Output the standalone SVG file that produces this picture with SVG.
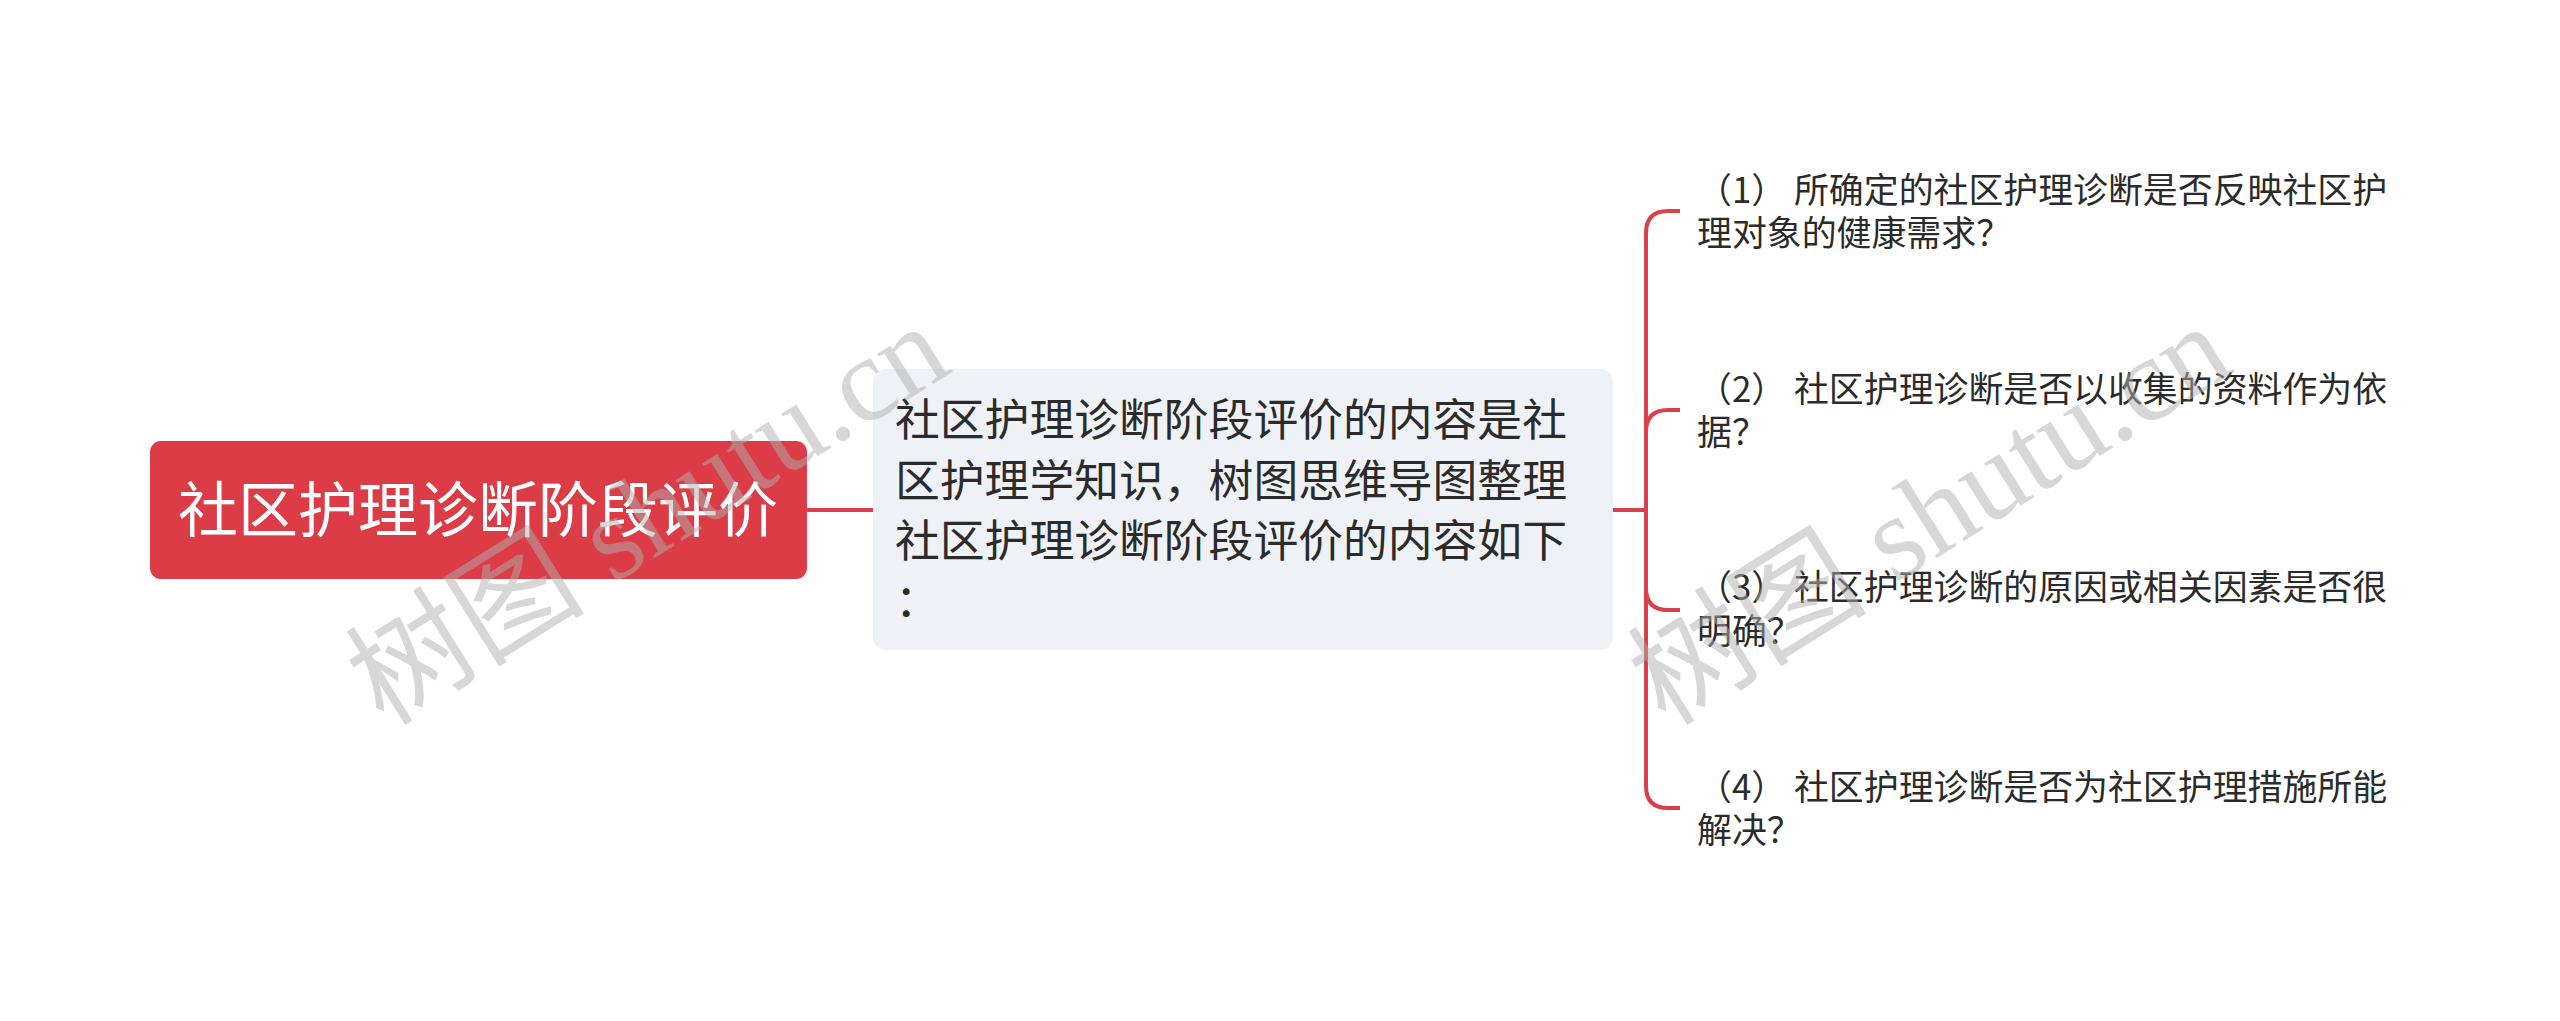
<svg xmlns="http://www.w3.org/2000/svg" width="2560" height="1021" viewBox="0 0 2560 1021">
<style>
.conn{fill:none;stroke:#D9404A;stroke-width:4;stroke-linecap:butt}
.root-t{font-family:"Noto Sans CJK SC","Noto Sans",sans-serif;font-size:60px;fill:#FFFFFF}
.mid-t{font-family:"Noto Sans CJK SC","Noto Sans",sans-serif;font-size:44.8px;fill:#2B2B2B}
.leaf-t{font-family:"Noto Sans CJK SC","Noto Sans",sans-serif;font-size:34.9px;fill:#2B2B2B}
.wm{font-family:"Liberation Serif","Noto Sans CJK SC",serif;font-size:120px;fill:#B0B0B0;opacity:0.5}
</style>
<rect width="2560" height="1021" fill="#FFFFFF"/>
<g id="connectors">
<path class="conn" d="M807 510 H873"/>
<path class="conn" d="M1613 510 H1646"/>
<path class="conn" d="M1646 510 V233 Q1646 211 1668 211 H1680"/>
<path class="conn" d="M1646 510 V432 Q1646 410 1668 410 H1680"/>
<path class="conn" d="M1646 510 V588 Q1646 610 1668 610 H1680"/>
<path class="conn" d="M1646 510 V786 Q1646 808 1668 808 H1680"/>
</g>
<g id="root">
<rect x="150" y="441" width="657" height="138" rx="11" fill="#DC3C45"/>
<text class="root-t" x="478" y="532" text-anchor="middle">社区护理诊断阶段评价</text>
</g>
<g id="middle">
<rect x="873" y="369" width="740" height="281" rx="13" fill="#EEF1F5"/>
<text class="mid-t" x="895" y="436">社区护理诊断阶段评价的内容是社</text>
<text class="mid-t" x="895" y="497">区护理学知识，树图思维导图整理</text>
<text class="mid-t" x="895" y="557">社区护理诊断阶段评价的内容如下</text>
<text class="mid-t" x="895" y="617">：</text>
</g>
<g id="leaf1">
<text class="leaf-t" x="1697" y="203">（1） 所确定的社区护理诊断是否反映社区护</text>
<text class="leaf-t" x="1697" y="246">理对象的健康需求？</text>
</g>
<g id="leaf2">
<text class="leaf-t" x="1697" y="402">（2） 社区护理诊断是否以收集的资料作为依</text>
<text class="leaf-t" x="1697" y="445">据？</text>
</g>
<g id="leaf3">
<text class="leaf-t" x="1697" y="600">（3） 社区护理诊断的原因或相关因素是否很</text>
<text class="leaf-t" x="1697" y="644">明确？</text>
</g>
<g id="leaf4">
<text class="leaf-t" x="1697" y="800">（4） 社区护理诊断是否为社区护理措施所能</text>
<text class="leaf-t" x="1697" y="843">解决？</text>
</g>
<g id="watermark">
<text class="wm" transform="translate(648 515) rotate(-32)" x="0" y="40" text-anchor="middle">树图 shutu.cn</text>
<text class="wm" transform="translate(1930 515) rotate(-32)" x="0" y="40" text-anchor="middle">树图 shutu.cn</text>
</g>
</svg>
